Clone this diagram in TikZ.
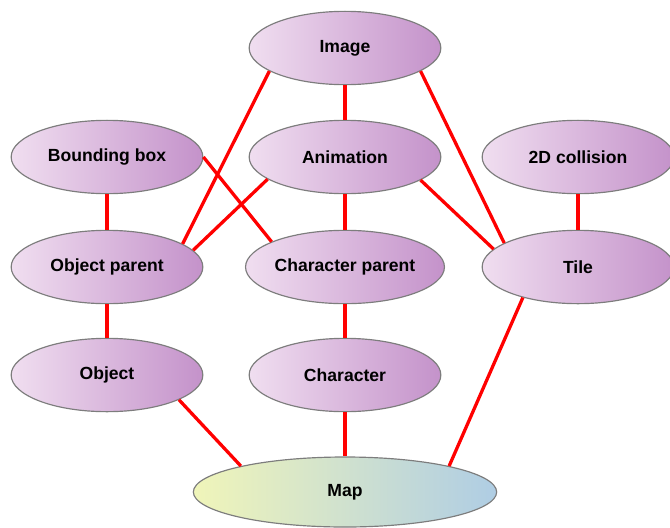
\documentclass[tikz,border=0pt]{standalone}
\usepackage{fontspec}
\setmainfont{Liberation Sans}
\usepackage{xcolor}
\usepackage{tikz}
\usetikzlibrary{shapes.geometric}
\definecolor{lightpink}{RGB}{240,222,240}
\definecolor{darkpink}{RGB}{196,146,202}
\definecolor{mapyellow}{RGB}{240,245,185}
\definecolor{mapblue}{RGB}{175,205,228}
\definecolor{rimgray}{RGB}{125,125,125}

\begin{document}
\begin{tikzpicture}[
  x=0.03cm, y=-0.03cm,
  oval/.style={ellipse,draw=rimgray,line width=1pt,inner sep=0pt,
    minimum width=5.75cm,minimum height=2.2cm,
    left color=lightpink,right color=darkpink,
    font=\fontsize{15}{18}\selectfont\bfseries},
  mapoval/.style={oval,minimum width=9.1cm,minimum height=2.1cm,
    left color=mapyellow,right color=mapblue},
  link/.style={red,line width=2.8pt}
]
\useasboundingbox (0,0) rectangle (670,527);
\node[oval] (img)   at (345,48)  {Image};
\node[oval] (bbox)  at (107,157) {Bounding box};
\node[oval] (anim)  at (345,157) {Animation};
\node[oval] (coll)  at (578,157) {2D collision};
\node[oval] (objp)  at (107,267) {Object parent};
\node[oval] (charp) at (345,267) {Character parent};
\node[oval] (tile)  at (578,267) {Tile};
\node[oval] (obj)   at (107,375) {Object};
\node[oval] (char)  at (345,375) {Character};
\node[mapoval] (map) at (345,492) {Map};

% straight down
\foreach \s/\t in {img/anim,bbox/objp,anim/charp,coll/tile,objp/obj,charp/char,char/map}
  \draw[link] (\s.south) -- (\t.north);
% slanted ones
\foreach \s/\t in {img.197/objp.17,img.343/tile.162,bbox.0/charp.161,
    anim.196/objp.11,anim.343/tile.168,obj.341/map.166,tile.209/map.14}
  \draw[link] (\s) -- (\t);
\end{tikzpicture}
\end{document}
